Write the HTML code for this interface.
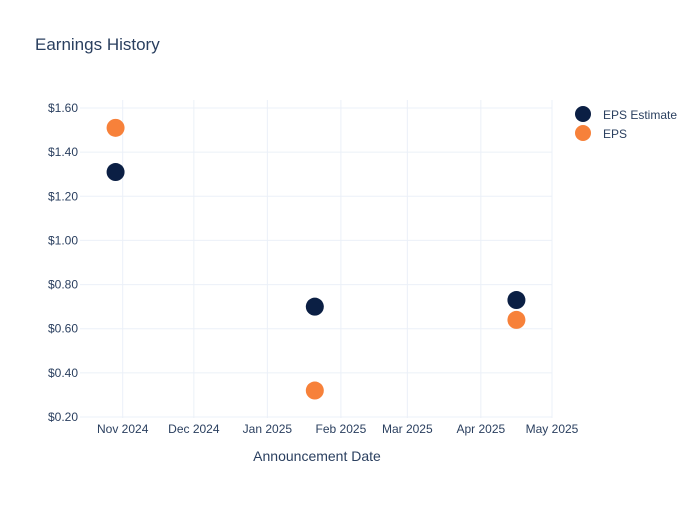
<!DOCTYPE html>
<html><head><meta charset="utf-8"><style>
body{margin:0;background:#fff;font-family:"Liberation Sans",sans-serif}
svg text{font-family:"Liberation Sans",sans-serif;fill:#2a3f5f}
</style></head><body>
<svg id="chart" width="700" height="500">
<text x="35" y="50" font-size="17">Earnings History</text>
<g id="grid"></g><g id="axes"></g><g id="marks"></g>
<text x="317" y="461" font-size="14" text-anchor="middle">Announcement Date</text>
<g>
<circle cx="583" cy="114" r="8" fill="#0b1f44"></circle>
<text x="603" y="119" font-size="12">EPS Estimate</text>
<circle cx="583" cy="133" r="8" fill="#f7813a"></circle>
<text x="603" y="138" font-size="12">EPS</text>
</g>
</svg>
<script>
const dates=["2024-10-29","2025-01-21","2025-04-16"];
const estimate=[1.31,0.70,0.73];
const eps=[1.51,0.32,0.64];
const yTicks=[0.2,0.4,0.6,0.8,1.0,1.2,1.4,1.6];
const xTicks=["2024-11-01","2024-12-01","2025-01-01","2025-02-01","2025-03-01","2025-04-01","2025-05-01"];
const xTickLabels=["Nov 2024","Dec 2024","Jan 2025","Feb 2025","Mar 2025","Apr 2025","May 2025"];
const NS="http://www.w3.org/2000/svg";
const x0=Date.parse("2024-10-14"),x1=Date.parse("2025-05-01");
const L=80,R=552,T=100,B=418;
function xs(d){return L+(Date.parse(d)-x0)/(x1-x0)*(R-L);}
function ys(v){return 417+(v-0.2)/(1.6-0.2)*(108-417);}
const grid=document.getElementById('grid'),axes=document.getElementById('axes'),marks=document.getElementById('marks');
function mk(t,a,p){const e=document.createElementNS(NS,t);for(const k in a)e.setAttribute(k,a[k]);p.appendChild(e);return e;}
yTicks.forEach(v=>{
 const l=mk('line',{x1:L,x2:R,y1:ys(v),y2:ys(v),stroke:'#ebf0f8'},grid);
 
 
 const t=mk('text',{x:L-2,y:ys(v)+4,'font-size':12,'text-anchor':'end'},axes);
 t.textContent='$'+v.toFixed(2);
 
 
});
xTicks.forEach((d,i)=>{
 const l=mk('line',{x1:xs(d),x2:xs(d),y1:T,y2:B,stroke:'#ebf0f8'},grid);
 
 
 const t=mk('text',{x:xs(d),y:433,'font-size':12,'text-anchor':'middle'},axes);
 t.textContent=xTickLabels[i];
 
 
});
dates.forEach((d,i)=>{
 const a=mk('circle',{cx:xs(d),cy:ys(estimate[i]),r:9,fill:'#0b1f44'},marks);
 
 
 const b=mk('circle',{cx:xs(d),cy:ys(eps[i]),r:9,fill:'#f7813a'},marks);
 
 
});
</script>
</body></html>
